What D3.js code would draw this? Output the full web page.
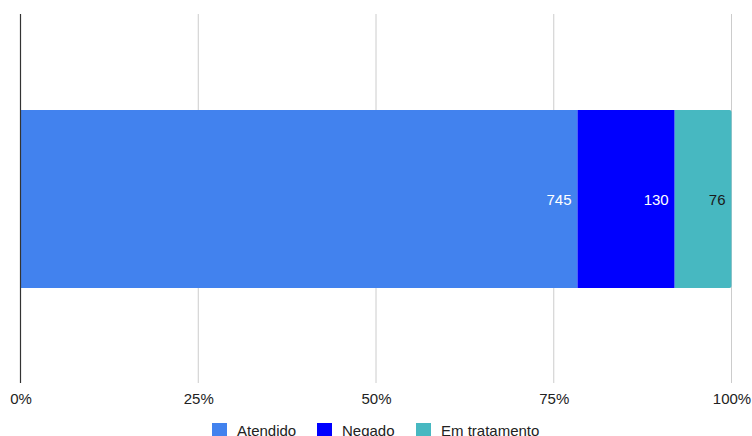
<!DOCTYPE html>
<html>
<head>
<meta charset="utf-8">
<script src="https://cdn.jsdelivr.net/npm/d3@7"></script>
<style>
  body { margin: 0; background: #fff; }
  text { font-family: "Liberation Sans", Arial, sans-serif; }
</style>
</head>
<body>
<div id="chart"></div>
<script>
var categories = ["Atendido", "Negado", "Em tratamento"];
var values = [745, 130, 76];
var colors = ["#4282ee", "#0000ff", "#47b8c1"];
var labelColors = ["#ffffff", "#ffffff", "#1a1a1a"];
var tickValues = [0, 0.25, 0.5, 0.75, 1];

var width = 752, height = 436;
var svg = d3.select("#chart").append("svg")
  .attr("width", width)
  .attr("height", height);

var x = d3.scaleLinear().domain([0, 1]).range([20.5, 731.5]);
var y = d3.scaleBand().domain(["row"]).range([14, 384]).paddingInner(0).paddingOuter(0.54);

var total = d3.sum(values);
var stacked = [];
var acc = 0;
for (var i = 0; i < values.length; i++) {
  stacked.push({name: categories[i], value: values[i], x0: acc / total, x1: (acc + values[i]) / total, i: i});
  acc += values[i];
}

// gridlines
svg.append("g")
  .selectAll("line")
  .data(tickValues.slice(1))
  .enter().append("line")
  .attr("x1", function(d) { return x(d); })
  .attr("x2", function(d) { return x(d); })
  .attr("y1", 14)
  .attr("y2", 383)
  .attr("stroke", "#cccccc")
  .attr("stroke-width", 1);

// bars (last segment gets small rounded right corners)
var r = 2;
var bars = svg.append("g");
bars.selectAll("path")
  .data(stacked)
  .enter().append("path")
  .attr("d", function(d) {
    var x0 = x(d.x0), x1 = x(d.x1), y0 = y("row"), y1 = y("row") + y.bandwidth();
    if (d.i === stacked.length - 1) {
      return "M" + x0 + "," + y0 + "H" + (x1 - r) + "Q" + x1 + "," + y0 + " " + x1 + "," + (y0 + r) +
        "V" + (y1 - r) + "Q" + x1 + "," + y1 + " " + (x1 - r) + "," + y1 + "H" + x0 + "Z";
    }
    return "M" + x0 + "," + y0 + "H" + x1 + "V" + y1 + "H" + x0 + "Z";
  })
  .attr("fill", function(d) { return colors[d.i]; });

// value labels
bars.selectAll("text")
  .data(stacked)
  .enter().append("text")
  .attr("x", function(d) { return x(d.x1) - 6; })
  .attr("y", y("row") + y.bandwidth() / 2 + 5.5)
  .attr("text-anchor", "end")
  .attr("font-family", "Roboto, sans-serif")
  .attr("font-size", 15)
  .attr("fill", function(d) { return labelColors[d.i]; })
  .text(function(d) { return d.value; });

// axis line
svg.append("line")
  .attr("x1", x(0)).attr("x2", x(0))
  .attr("y1", 14).attr("y2", 383)
  .attr("stroke", "#333333")
  .attr("stroke-width", 1.2);

// tick labels
var axis = d3.axisBottom(x)
  .tickValues(tickValues)
  .tickFormat(d3.format(".0%"))
  .tickSize(0)
  .tickPadding(0);
var ax = svg.append("g")
  .call(axis);
ax.select(".domain").remove();
ax.selectAll("text")
  .attr("y", 404)
  .attr("dy", null)
  .attr("font-family", "Liberation Sans, Arial, sans-serif")
  .attr("font-size", 15)
  .attr("fill", "#222222");

// legend
var legendX = [212, 317, 416];
var legend = svg.append("g");
var items = legend.selectAll("g")
  .data(categories)
  .enter().append("g")
  .attr("transform", function(d, i) { return "translate(" + legendX[i] + ",423)"; });
items.append("rect")
  .attr("width", 15)
  .attr("height", 15)
  .attr("fill", function(d, i) { return colors[i]; });
items.append("text")
  .attr("x", 25)
  .attr("y", 13)
  .attr("font-size", 15)
  .attr("fill", "#222222")
  .text(function(d) { return d; });
</script>
</body>
</html>
